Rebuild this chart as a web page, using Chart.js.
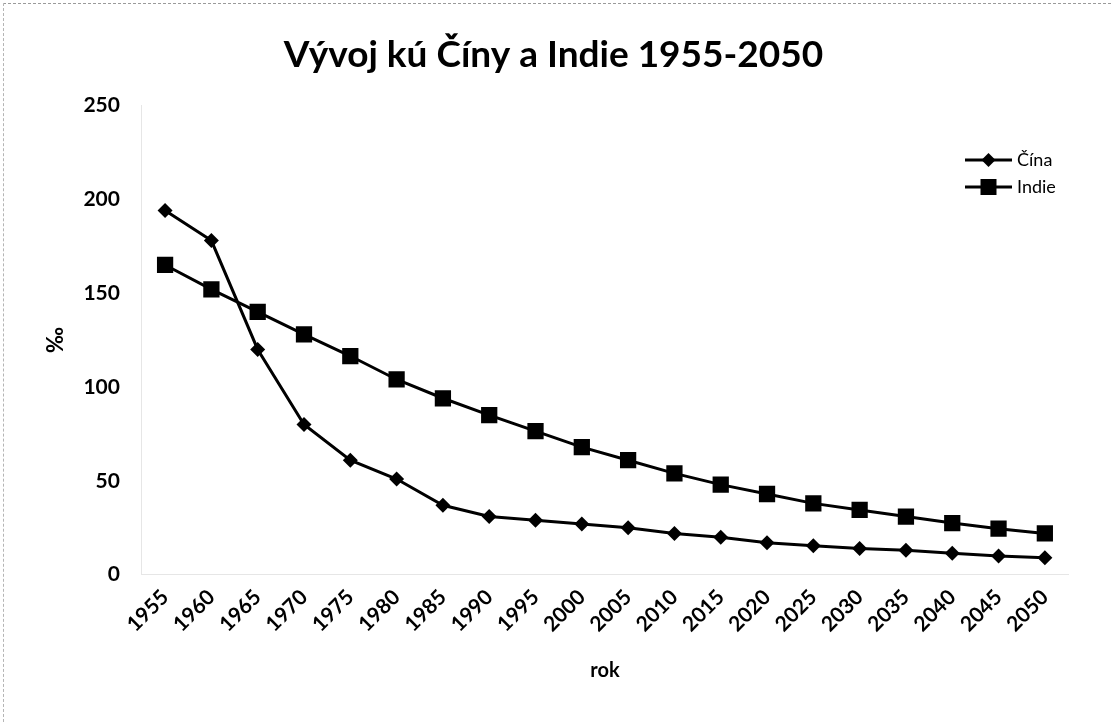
<!DOCTYPE html>
<html>
<head>
<meta charset="utf-8">
<title>Vývoj kú Číny a Indie 1955-2050</title>
<script src="https://cdn.jsdelivr.net/npm/chart.js@4/dist/chart.umd.min.js"></script>
<style>
    html, body { margin: 0; padding: 0; background: #fff; }
    #wrap { position: relative; width: 1111px; height: 722px; }
    #frame {
        position: absolute; left: 3px; top: 3px; right: 0; bottom: 0;
        border-top: 1px dashed #9a9a9a; border-left: 1px dashed #b5b5b5;
        pointer-events: none;
    }
</style>
</head>
<body>
<div id="wrap">
    <canvas id="kuChart" width="1111" height="722"></canvas>
    <div id="frame"></div>
</div>
<script>
// Roky (os x)
const years = ['1955', '1960', '1965', '1970', '1975', '1980', '1985', '1990', '1995', '2000',
               '2005', '2010', '2015', '2020', '2025', '2030', '2035', '2040', '2045', '2050'];

// Hodnoty v promile
const cina  = [194, 178, 120, 80, 61, 51, 37, 31, 29, 27, 25, 22, 20, 17, 15.5, 14, 13, 11.5, 10, 9];
const indie = [165, 152, 140, 128, 116.5, 104, 94, 85, 76.5, 68, 61, 54, 48, 43, 38, 34.5, 31, 27.5, 24.5, 22];

const yTicks = [0, 50, 100, 150, 200, 250];

const FONT = 'Lato, "Open Sans", sans-serif';

// Legenda v štýle Excelu (vpravo hore, cez plochu grafu)
const excelLegend = {
    id: 'excelLegend',
    afterDraw(chart) {
        const c = chart.ctx;
        const x0 = 965, x1 = 1012;
        const rows = [160, 187];
        c.save();
        chart.data.datasets.forEach((ds, i) => {
            const y = rows[i];
            const mx = (x0 + x1) / 2;
            c.strokeStyle = '#000';
            c.lineWidth = 3;
            c.beginPath();
            c.moveTo(x0, y);
            c.lineTo(x1, y);
            c.stroke();
            c.fillStyle = '#000';
            c.beginPath();
            if (ds.pointStyle === 'rectRot') {
                const r = 7;
                c.moveTo(mx - r, y); c.lineTo(mx, y - r); c.lineTo(mx + r, y); c.lineTo(mx, y + r);
            } else {
                const h = 8;
                c.rect(mx - h, y - h, 2 * h, 2 * h);
            }
            c.closePath();
            c.fill();
            c.font = '18px ' + FONT;
            c.textBaseline = 'middle';
            c.textAlign = 'left';
            c.fillText(ds.label, x1 + 5, y);
        });
        c.restore();
    }
};

const ctx = document.getElementById('kuChart').getContext('2d');

new Chart(ctx, {
    type: 'line',
    data: {
        labels: years,
        datasets: [
            {
                label: 'Čína',
                data: cina,
                borderColor: '#000',
                backgroundColor: '#000',
                borderWidth: 3,
                pointStyle: 'rectRot',
                pointRadius: 7.5,
                pointBorderWidth: 0,
                tension: 0
            },
            {
                label: 'Indie',
                data: indie,
                borderColor: '#000',
                backgroundColor: '#000',
                borderWidth: 3,
                pointStyle: 'rect',
                pointRadius: 11.5,
                pointBorderWidth: 0,
                tension: 0
            }
        ]
    },
    options: {
        responsive: false,
        animation: false,
        layout: { padding: { left: 39, right: 43, top: 0, bottom: 35 } },
        scales: {
            x: {
                offset: true,
                grid: { display: false, drawTicks: true, tickLength: 6, color: '#d8d8d8' },
                border: { display: true, color: '#e6e6e6' },
                ticks: {
                    color: '#000',
                    font: { family: FONT, size: 21, weight: 'bold' },
                    minRotation: 45,
                    maxRotation: 45,
                    autoSkip: false,
                    padding: 4
                },
                title: {
                    display: true,
                    text: 'rok',
                    color: '#000',
                    font: { family: FONT, size: 20, weight: 'bold' },
                    padding: { top: 18 }
                }
            },
            y: {
                min: 0,
                max: 250,
                afterBuildTicks: axis => { axis.ticks = yTicks.map(v => ({ value: v })); },
                grid: { display: false },
                border: { display: true, color: '#e6e6e6' },
                ticks: {
                    color: '#000',
                    font: { family: FONT, size: 21, weight: 'bold' },
                    padding: 14
                },
                title: {
                    display: true,
                    text: '‰',
                    color: '#000',
                    font: { family: FONT, size: 22, weight: 'bold' },
                    padding: { bottom: 0 }
                }
            }
        },
        plugins: {
            legend: { display: false },
            tooltip: { enabled: false },
            title: {
                display: true,
                text: 'Vývoj kú Číny a Indie 1955-2050',
                color: '#000',
                font: { family: FONT, size: 37, weight: 'bold' },
                padding: { top: 33, bottom: 28 }
            }
        }
    },
    plugins: [excelLegend]
});
</script>
</body>
</html>
